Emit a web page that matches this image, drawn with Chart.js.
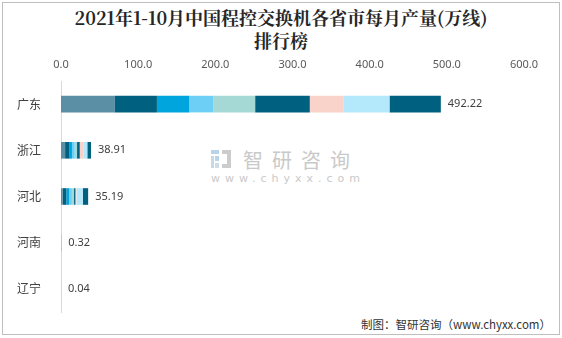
<!DOCTYPE html>
<html>
<head>
<meta charset="utf-8">
<script src="https://cdn.jsdelivr.net/npm/chart.js@4/dist/chart.umd.min.js"></script>
<style>
  html, body { margin: 0; padding: 0; background: #fff; }
  #wrap { position: relative; width: 562px; height: 338px; overflow: hidden; }
  #frame { position: absolute; left: 2px; top: 2px; width: 556px; height: 331px; border: 1px solid #bfbfbf; }
  #title { position: absolute; left: 0; top: 6px; width: 562px; text-align: center;
    font-family: "Noto Serif CJK SC", "Noto Sans CJK SC", serif; font-weight: bold; font-size: 18px;
    line-height: 23px; color: #262626; }
  #mark { position: absolute; left: 211px; top: 147px; color: #c9c9c9; }
  #mark .name { position: absolute; left: 32px; top: -2px; white-space: nowrap;
    font-family: "Noto Sans CJK SC", sans-serif; font-size: 20px; letter-spacing: 9px; }
  #mark .url { position: absolute; left: 0; top: 25px; white-space: nowrap;
    font-family: "DejaVu Sans", sans-serif; font-size: 11px; letter-spacing: 5px; }
  #footer { position: absolute; right: 11px; top: 316px; font-family: "Noto Sans CJK SC", sans-serif;
    font-size: 11.5px; color: #333; white-space: nowrap; }
  canvas { position: absolute; left: 0; top: 0; }
</style>
</head>
<body>
<div id="wrap">
  <div id="frame"></div>
  <div id="title">2021年1-10月中国程控交换机各省市每月产量(万线)<br>排行榜</div>
  <div id="mark">
    <svg width="20" height="18" viewBox="0 0 20 18" style="position:absolute;left:0;top:3px">
      <rect x="0" y="0" width="8" height="4" fill="#b9d3e8"/>
      <rect x="0" y="6" width="3" height="12" fill="#c7d8e6"/>
      <rect x="4" y="6" width="4" height="5" fill="#b9d3e8"/>
      <rect x="4" y="13" width="4" height="5" fill="#cfdbe5"/>
      <path d="M11 0 H20 V18 H11 V14 H16 V4 H11 Z" fill="#cccccc"/>
    </svg>
    <span class="name">智研咨询</span>
    <span class="url">www.chyxx.com</span>
  </div>
  <div id="footer">制图：智研咨询（www.chyxx.com）</div>
  <canvas id="chart" width="562" height="338"></canvas>
</div>
<script>
// 省市与月份
const provinces = ['广东', '浙江', '河北', '河南', '辽宁'];
const months = ['1-2月', '3月', '4月', '5月', '6月', '7月', '8月', '9月', '10月'];

// 各省每月产量（万线）
const guangdong = [69.9, 54.4, 42.0, 31.3, 54.0, 70.8, 43.3, 60.0, 66.52];
const zhejiang = [5.3, 5.8, 3.1, 3.5, 3.1, 3.5, 5.3, 4.5, 4.81];
const hebei = [2.3, 4.6, 3.6, 3.6, 2.8, 1.8, 1.4, 8.2, 6.89];
const henan = [0.03, 0.03, 0.04, 0.04, 0.03, 0.04, 0.04, 0.03, 0.04];
const liaoning = [0, 0, 0.01, 0, 0.01, 0, 0.01, 0, 0.01];

const xTicks = [0, 100, 200, 300, 400, 500, 600];
const monthColors = ['#5b8fa6', '#00607f', '#00a5dd', '#6dcff6', '#a4d9d6', '#00607f', '#f9d3ca', '#b4e9fb', '#00607f'];

const rows = [guangdong, zhejiang, hebei, henan, liaoning];

const datasets = months.map((m, j) => ({
    label: m,
    data: rows.map(r => r[j]),
    backgroundColor: monthColors[j],
    borderWidth: 0,
    categoryPercentage: 1,
    barPercentage: 0.36
}));

// 合计数值标签
const totalLabels = {
    id: 'totalLabels',
    afterDatasetsDraw(chart) {
        const ctx = chart.ctx;
        const x = chart.scales.x;
        const y = chart.scales.y;
        ctx.save();
        ctx.font = '11px "Noto Sans", "Open Sans", sans-serif';
        ctx.fillStyle = '#404040';
        ctx.textBaseline = 'middle';
        ctx.textAlign = 'left';
        rows.forEach((r, i) => {
            const total = r.reduce((a, b) => a + b, 0);
            ctx.fillText(total.toFixed(2), x.getPixelForValue(total) + 7, y.getPixelForValue(i));
        });
        ctx.restore();
    }
};

new Chart(document.getElementById('chart'), {
    type: 'bar',
    data: { labels: provinces, datasets: datasets },
    plugins: [totalLabels],
    options: {
        indexAxis: 'y',
        responsive: false,
        animation: false,
        layout: { padding: { left: 0, right: 38, top: 57, bottom: 26 } },
        plugins: {
            legend: { display: false },
            tooltip: { enabled: false }
        },
        scales: {
            x: {
                position: 'top',
                stacked: true,
                min: 0,
                max: 600,
                afterBuildTicks: s => { s.ticks = xTicks.map(v => ({ value: v })); },
                afterFit: s => { s.height = 24; },
                grid: { display: false },
                border: { display: false },
                ticks: {
                    padding: 2,
                    color: '#595959',
                    font: { size: 11, family: '"Noto Sans", "Open Sans", sans-serif' },
                    callback: v => Number(v).toFixed(1)
                }
            },
            y: {
                stacked: true,
                afterFit: s => { s.width = 61; },
                grid: { display: false },
                border: { display: true, color: '#d9d9d9', width: 1 },
                ticks: {
                    padding: 12,
                    color: '#404040',
                    font: { size: 12, family: '"Noto Sans CJK SC", sans-serif' }
                }
            }
        }
    }
});
</script>
</body>
</html>
